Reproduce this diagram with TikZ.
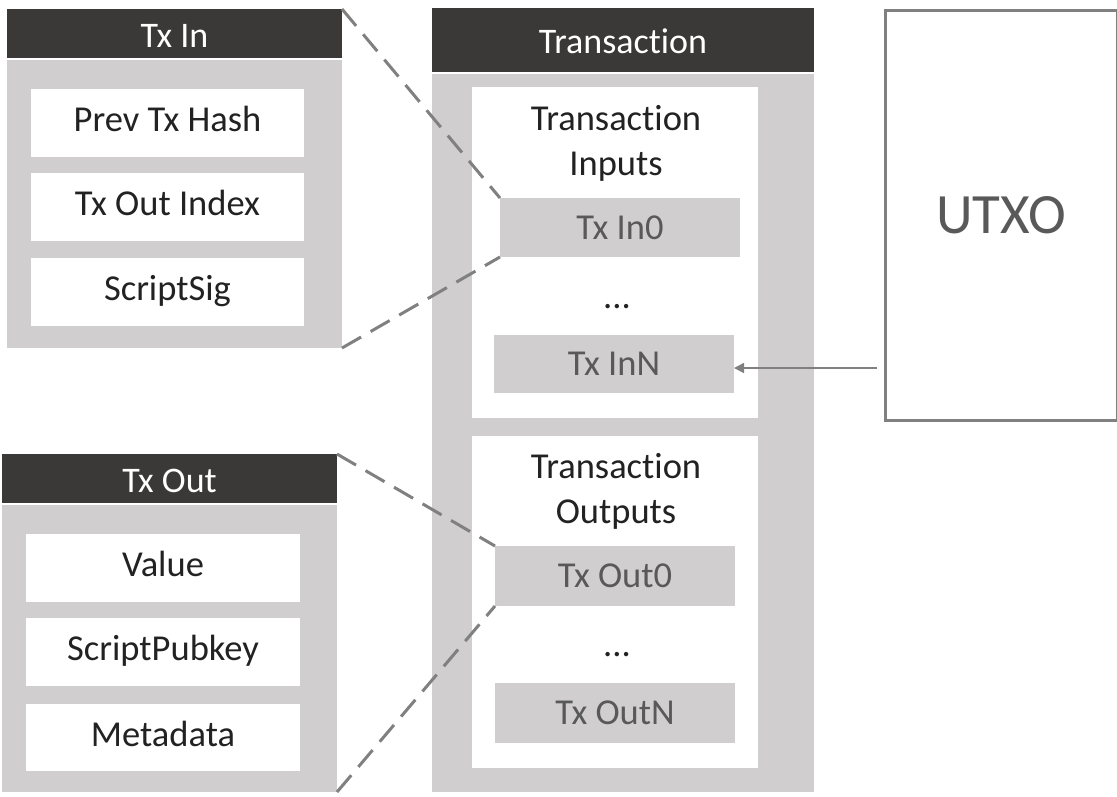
\documentclass[tikz,border=0pt]{standalone}
\usepackage{fontspec}
\setmainfont{Carlito}[Ligatures=NoCommon]
\usetikzlibrary{arrows.meta,calc}
\definecolor{hdr}{HTML}{3B3937}
\definecolor{lg}{HTML}{D0CECE}
\definecolor{tx}{HTML}{222222}
\definecolor{gt}{HTML}{595959}
\definecolor{ln}{HTML}{808080}
\begin{document}
\begin{tikzpicture}[x=1pt,y=-1pt,
  bx/.style={anchor=north west, inner sep=0pt, outer sep=0pt, draw=none},
  hdrbox/.style={bx, fill=hdr, text=white, font=\fontsize{36}{40}\selectfont, text height=27pt, text depth=0pt},
  bodybox/.style={bx, fill=lg},
  fieldbox/.style={bx, fill=white, text=tx, font=\fontsize{36.5}{40}\selectfont, text height=24pt, text depth=7pt},
  itembox/.style={bx, fill=lg, text=gt, font=\fontsize{36.5}{40}\selectfont, text height=23pt, text depth=0pt},
  lbl/.style={inner sep=0pt, text=tx, font=\fontsize{36.5}{45}\selectfont, align=center},
  dl/.style={draw=ln, line width=3pt, dash pattern=on 22pt off 11pt},
  arr/.style={draw=ln, line width=1.5pt, -{Triangle[length=10pt,width=10pt]}}
]
\useasboundingbox (0,0) rectangle (1117,796);
% Tx In
\node[hdrbox, minimum width=335, minimum height=49] (inh) at (7,9) {Tx In};
\node[bodybox, minimum width=335, minimum height=288] (inb) at (7,60) {};
\node[fieldbox, minimum width=273, minimum height=68] (f1) at (31,89) {Prev Tx Hash};
\node[fieldbox, minimum width=273, minimum height=68] (f2) at (31,173) {Tx Out Index};
\node[fieldbox, minimum width=273, minimum height=68] (f3) at (31,258) {ScriptSig};
% Tx Out
\node[hdrbox, minimum width=335, minimum height=49] (outh) at (2,454) {Tx Out};
\node[bodybox, minimum width=335, minimum height=287] (outb) at (2,505) {};
\node[fieldbox, minimum width=274, minimum height=68] (g1) at (26,534) {Value};
\node[fieldbox, minimum width=274, minimum height=68] (g2) at (26,618) {ScriptPubkey};
\node[fieldbox, minimum width=274, minimum height=67] (g3) at (26,704) {Metadata};
% Transaction
\node[hdrbox, minimum width=382, minimum height=64, text height=26pt] (trh) at (432,8) {Transaction};
\node[bodybox, minimum width=382, minimum height=718] (trb) at (432,74) {};
\node[bx, fill=white, minimum width=286, minimum height=331] (inp) at (472,87) {};
\node[lbl] (inpt) at (616,143) {Transaction\\Inputs};
\node[itembox, minimum width=240, minimum height=59] (in0) at (500,198) {Tx In0};
\node[lbl] (idots) at (617,307) {...};
\node[itembox, minimum width=240, minimum height=58] (inN) at (494,335) {Tx InN};
\node[bx, fill=white, minimum width=286, minimum height=332] (outp) at (472,436) {};
\node[lbl] (outpt) at (616,491) {Transaction\\Outputs};
\node[itembox, minimum width=240, minimum height=60] (out0) at (495,546) {Tx Out0};
\node[lbl] (odots) at (617,655) {...};
\node[itembox, minimum width=240, minimum height=60] (outN) at (495,683) {Tx OutN};
% UTXO
\node[anchor=north west, draw=ln, line width=2.5pt, minimum width=232, minimum height=410, inner sep=0pt, text=gt, font=\fontsize{57}{60}\selectfont] (utxo) at (884,9) {UTXO};
% dashed connectors
\draw[dl] (inh.north east) -- (in0.north west);
\draw[dl] (inb.south east) -- (in0.south west);
\draw[dl] (outh.north east) -- (out0.north west);
\draw[dl] (outb.south east) -- (out0.south west);
% arrow
\coordinate (as) at (877,368);
\draw[arr] (as) -- (inN.east |- as);
\end{tikzpicture}
\end{document}
